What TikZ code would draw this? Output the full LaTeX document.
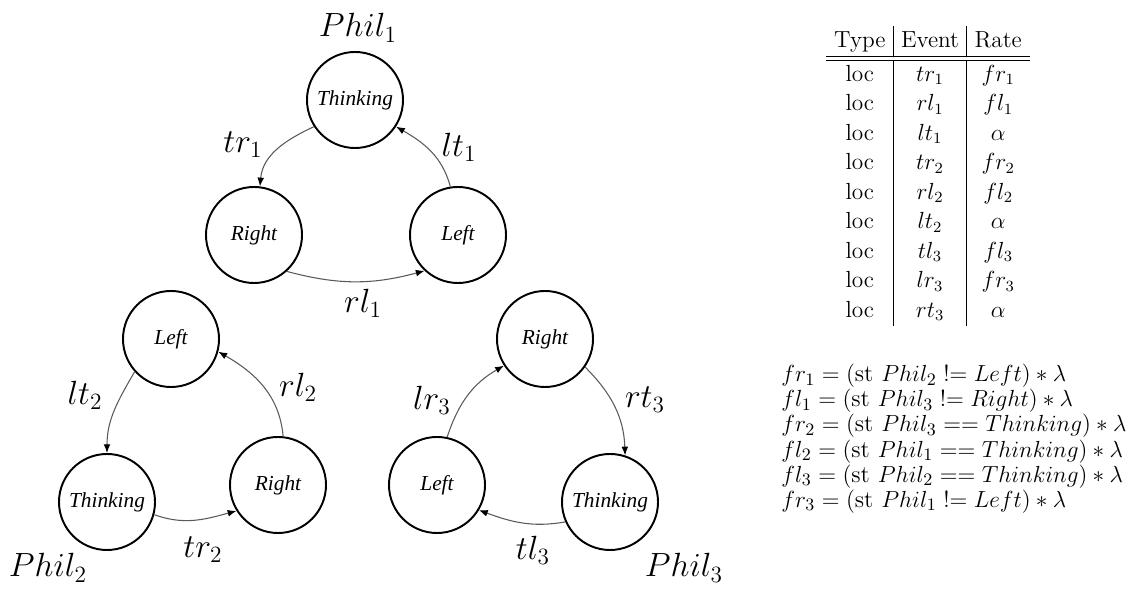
\documentclass[tikz,border=0pt]{standalone}
\usepackage{amsmath}
\usepackage{fontspec}
\usepackage{tikz}
\usetikzlibrary{arrows.meta,positioning}
\newfontfamily\statefont{Liberation Serif}
\definecolor{linegray}{HTML}{5A5A5A}
\newlength{\pxunit}
\setlength{\pxunit}{0.515pt}
\newcommand{\neqop}{\mathrel{!}\mathrel{=}}
\tikzset{
  state/.style={draw, circle, line width=1pt, minimum size=96\pxunit, inner sep=0pt, font=\statefont\itshape\fontsize{11}{13}\selectfont},
  trans/.style={-{Latex[length=4.5pt,width=3.5pt,color=black]}, line width=.55pt, draw=linegray},
  lbl/.style={font=\LARGE},
}

\begin{document}
\begin{tikzpicture}[x=0.0181cm, y=-0.0181cm]
  \useasboundingbox (0,0) rectangle (1147,594);

  % Phil 1
  \node[state] (t1) at (355,100) {Thinking};
  \node[state] (r1) at (254,235) {Right};
  \node[state] (l1) at (458,235) {Left};
  \node[lbl, anchor=base] (p1) at (358,37) {$Phil_1$};
  \draw[trans] (t1.213) to[out=205, in=85] (r1.83);
  \draw[trans] (l1.99) to[out=105, in=-30] (t1.-33);
  \draw[trans] (r1.-48) to[out=-15, in=195] (l1.227);
  \node[lbl] (e11) at (243,145) {$tr_1$};
  \node[lbl] (e12) at (459,147) {$lt_1$};
  \node[lbl] (e13) at (363,303) {$rl_1$};

  % Phil 2
  \node[state] (l2) at (171,339) {Left};
  \node[state] (t2) at (107,502) {Thinking};
  \node[state] (r2) at (278,485) {Right};
  \node[lbl, anchor=base] (p2) at (48,577) {$Phil_2$};
  \draw[trans] (l2.222) to[out=240, in=90] (t2.90);
  \draw[trans] (r2.84) to[out=95, in=-30] (l2.-15);
  \draw[trans] (t2.-15) to[out=-20, in=195] (r2.212);
  \node[lbl] (e21) at (85,395) {$lt_2$};
  \node[lbl] (e22) at (298,387) {$rl_2$};
  \node[lbl] (e23) at (203,550) {$tr_2$};

  % Phil 3
  \node[state] (r3) at (545,339) {Right};
  \node[state] (l3) at (437,485) {Left};
  \node[state] (t3) at (610,502) {Thinking};
  \node[lbl, anchor=base] (p3) at (684,577) {$Phil_3$};
  \draw[trans] (l3.78) to[out=72, in=210] (r3.213);
  \draw[trans] (r3.-35) to[out=-45, in=92] (t3.72);
  \draw[trans] (t3.204) to[out=190, in=-20] (l3.-31);
  \node[lbl] (e31) at (432,400) {$lr_3$};
  \node[lbl] (e32) at (645,400) {$rt_3$};
  \node[lbl] (e33) at (533,550) {$tl_3$};

  % rates table
  \node[inner sep=0pt, anchor=north, font=\fontsize{12}{15.2}\selectfont] (tab) at (928,26) {%
    \setlength{\tabcolsep}{4pt}%
    \begin{tabular}{c|c|c}
      Type & Event & Rate \\ \hline\hline
      loc & $tr_1$ & $fr_1$ \\
      loc & $rl_1$ & $fl_1$ \\
      loc & $lt_1$ & $\alpha$ \\
      loc & $tr_2$ & $fr_2$ \\
      loc & $rl_2$ & $fl_2$ \\
      loc & $lt_2$ & $\alpha$ \\
      loc & $tl_3$ & $fl_3$ \\
      loc & $lr_3$ & $fr_3$ \\
      loc & $rt_3$ & $\alpha$
    \end{tabular}};

  % rate functions
  \node[anchor=north west, inner sep=0pt, align=left, font=\fontsize{12.4}{12.9}\selectfont] (fns) at (781,364) {%
      $fr_1 = (\mbox{st } Phil_2 \neqop Left) * \lambda$ \\
      $fl_1 = (\mbox{st } Phil_3 \neqop Right) * \lambda$ \\
      $fr_2 = (\mbox{st } Phil_3 == Thinking) * \lambda$ \\
      $fl_2 = (\mbox{st } Phil_1 == Thinking) * \lambda$ \\
      $fl_3 = (\mbox{st } Phil_2 == Thinking) * \lambda$ \\
      $fr_3 = (\mbox{st } Phil_1 \neqop Left) * \lambda$};
\end{tikzpicture}
\end{document}
